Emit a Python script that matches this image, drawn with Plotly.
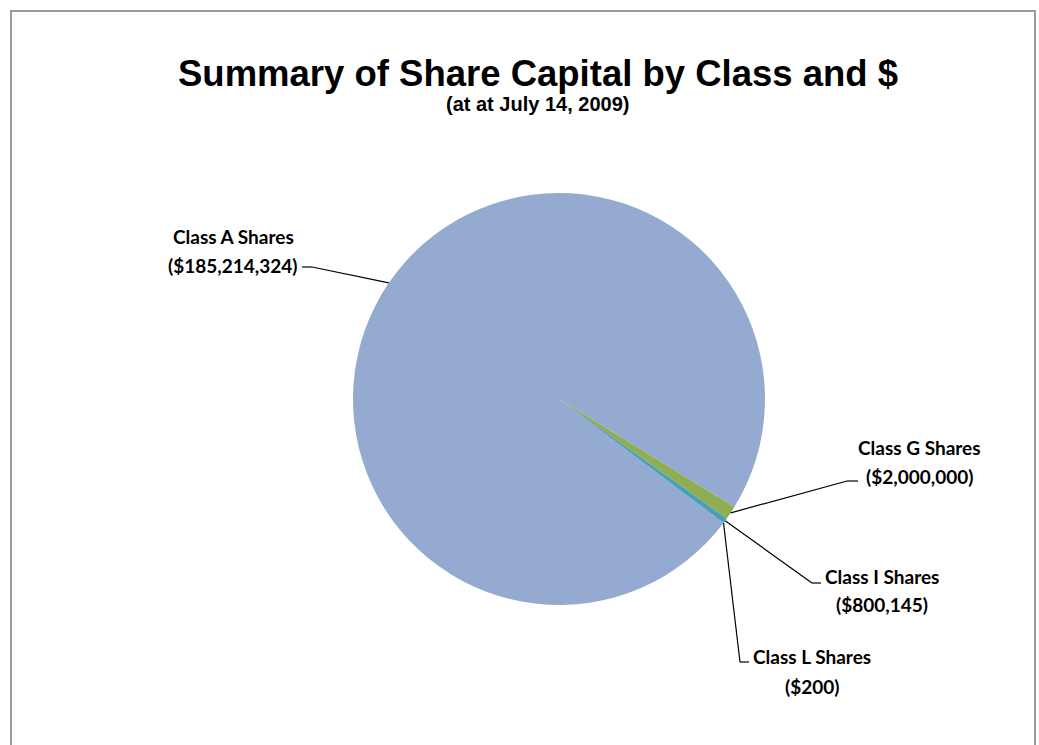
import math
import plotly.graph_objects as go

# ---- data ----
classes = ["Class A Shares", "Class G Shares", "Class I Shares", "Class L Shares"]
amounts = [185214324, 2000000, 800145, 200]
colors = ["#95AAD1", "#8FAE53", "#4A9FB8", "#E0915A"]

title_text = "Summary of Share Capital by Class and $"
subtitle_text = "(at at July 14, 2009)"

# ---- layout constants (pixels) ----
W, H = 1039, 745
CX, CY, R = 559, 399, 206
ROTATION = 127

# label placement: (text centre x, line1 y, line2 y, knee x, knee y, end x)
label_layout = {
    "Class A Shares": (233, 236, 265, 312, 267, 302),
    "Class G Shares": (919, 448, 476, 847, 481, 858),
    "Class I Shares": (882, 576, 604, 812, 583, 821),
    "Class L Shares": (812, 656, 686, 740, 662, 749),
}


def fx(x):
    return x / W


def fy(y):
    return 1 - y / H


total = sum(amounts)
mid_angles = []
acc = ROTATION
for v in amounts:
    span = v / total * 360
    mid_angles.append(acc + span / 2)
    acc += span


def edge(angle):
    a = math.radians(angle)
    return CX + R * math.sin(a), CY - R * math.cos(a)


fig = go.Figure(
    go.Pie(
        labels=classes,
        values=amounts,
        sort=False,
        direction="clockwise",
        rotation=ROTATION,
        marker=dict(colors=colors, line=dict(width=0)),
        textinfo="none",
        hoverinfo="label+value",
        showlegend=False,
        domain=dict(x=[fx(CX - R), fx(CX + R)], y=[fy(CY + R), fy(CY - R)]),
    )
)

label_font = dict(family="Lato", size=19, color="#000000")
annotations = []
shapes = []
for name, v, ang in zip(classes, amounts, mid_angles):
    tx, y1, y2, kx, ky, ex = label_layout[name]
    annotations.append(dict(x=fx(tx), y=fy(y1), xref="paper", yref="paper",
                            text="<b>%s</b>" % name, showarrow=False,
                            xanchor="center", yanchor="middle", font=label_font))
    annotations.append(dict(x=fx(tx), y=fy(y2), xref="paper", yref="paper",
                            text="<b>($%s)</b>" % format(v, ","), showarrow=False,
                            xanchor="center", yanchor="middle", font=label_font))
    px0, py0 = edge(ang)
    shapes.append(dict(type="line", xref="paper", yref="paper",
                       x0=fx(px0), y0=fy(py0), x1=fx(kx), y1=fy(ky),
                       line=dict(color="#000000", width=1.2)))
    shapes.append(dict(type="line", xref="paper", yref="paper",
                       x0=fx(kx), y0=fy(ky), x1=fx(ex), y1=fy(ky),
                       line=dict(color="#000000", width=1.2)))

annotations.append(dict(x=fx(538), y=fy(74), xref="paper", yref="paper",
                        text="<b>%s</b>" % title_text, showarrow=False,
                        xanchor="center", yanchor="middle",
                        font=dict(family="Liberation Sans", size=36.5, color="#000000")))
annotations.append(dict(x=fx(537), y=fy(104), xref="paper", yref="paper",
                        text="<b>%s</b>" % subtitle_text, showarrow=False,
                        xanchor="center", yanchor="middle",
                        font=dict(family="Liberation Sans", size=20, color="#000000")))

# chart border
shapes.append(dict(type="rect", xref="paper", yref="paper",
                   x0=fx(11), x1=fx(1035), y0=-0.02, y1=fy(11),
                   line=dict(color="#9A9A9A", width=2)))

fig.update_layout(
    width=W, height=H,
    margin=dict(l=0, r=0, t=0, b=0),
    paper_bgcolor="#FFFFFF",
    plot_bgcolor="#FFFFFF",
    annotations=annotations,
    shapes=shapes,
)

fig.write_html("out.html", config={"displayModeBar": False},
               post_script="document.body.style.margin='0px';")
